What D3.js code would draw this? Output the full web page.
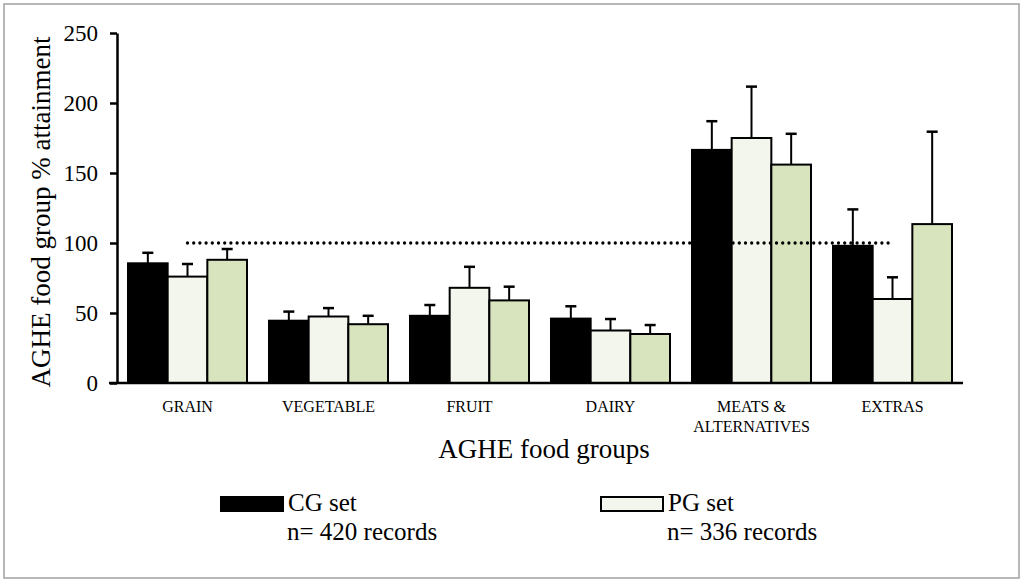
<!DOCTYPE html>
<html><head><meta charset="utf-8">
<script src="https://cdn.jsdelivr.net/npm/d3@7"></script>
<style>body{margin:0;background:#fff}svg{display:block}svg text{font-family:"Liberation Serif","DejaVu Serif",serif !important;fill:#000}</style>
</head><body>
<svg id="c" width="1024" height="586"></svg>
<script>
const categories = ["GRAIN","VEGETABLE","FRUIT","DAIRY","MEATS & ALTERNATIVES","EXTRAS"];
const categoryLines = [["GRAIN"],["VEGETABLE"],["FRUIT"],["DAIRY"],["MEATS &","ALTERNATIVES"],["EXTRAS"]];
const seriesNames = ["CG set","PG set","Third set"];
const cgValues = [85.5, 44.5, 48, 46, 166.5, 98];
const cgErrors = [7.5, 6.5, 7.7, 8.8, 20.5, 26];
const pgValues = [76, 47.5, 68, 37.5, 175, 60];
const pgErrors = [9, 6, 15, 8.2, 36.7, 15.5];
const thirdValues = [88, 42, 59, 35, 156, 113.5];
const thirdErrors = [7.7, 6, 9.8, 6.4, 22, 66];
const yTicks = [0, 50, 100, 150, 200, 250];
const referenceValue = 100;
const legendItems = [
  {name:"CG set", note:"n= 420 records"},
  {name:"PG set", note:"n= 336 records"}
];
const colors = {"CG set":"#000000","PG set":"#f2f6ec","Third set":"#d7e4bd"};
const FONT = '"Liberation Serif","DejaVu Serif",serif';

const svg = d3.select("#c");
svg.append("rect").attr("x",4).attr("y",4).attr("width",1015).attr("height",574)
  .attr("fill","#fff").attr("stroke","#a0a0a0").attr("stroke-width",1.5);

const plotLeft = 117, plotRight = 963, plotTop = 33, plotBottom = 383;
const y = d3.scaleLinear().domain([0,250]).range([plotBottom, plotTop]);
const p = 0.156;
const x0 = d3.scaleBand().domain(categories).range([plotLeft, plotRight]).paddingInner(p).paddingOuter(p/2);
const x1 = d3.scaleBand().domain(seriesNames).range([0, x0.bandwidth()]);

const vals = {"CG set":cgValues,"PG set":pgValues,"Third set":thirdValues};
const errs = {"CG set":cgErrors,"PG set":pgErrors,"Third set":thirdErrors};
const data = [];
categories.forEach((c,i)=>seriesNames.forEach(s=>data.push({c, s, v:vals[s][i], e:errs[s][i]})));

// error bars (behind bars)
const eb = svg.append("g").attr("stroke","#000").attr("stroke-width",2);
data.forEach(d=>{
  const cx = x0(d.c)+x1(d.s)+x1.bandwidth()/2;
  eb.append("line").attr("x1",cx).attr("x2",cx).attr("y1",y(d.v)).attr("y2",y(d.v+d.e));
  eb.append("line").attr("x1",cx-5.5).attr("x2",cx+5.5).attr("y1",y(d.v+d.e)).attr("y2",y(d.v+d.e)).attr("stroke-width",2.5);
});

// bars
svg.append("g").selectAll("rect").data(data).join("rect")
  .attr("x",d=>x0(d.c)+x1(d.s))
  .attr("y",d=>y(d.v))
  .attr("width",x1.bandwidth())
  .attr("height",d=>y(0)-y(d.v))
  .attr("fill",d=>colors[d.s])
  .attr("stroke","#000").attr("stroke-width",2);

// reference dotted line
svg.append("line")
  .attr("x1",x0(categories[0])+x0.bandwidth()/2)
  .attr("x2",x0(categories[categories.length-1])+x0.bandwidth()/2)
  .attr("y1",y(referenceValue)).attr("y2",y(referenceValue))
  .attr("stroke","#000").attr("stroke-width",3.3)
  .attr("stroke-dasharray","0,6.2").attr("stroke-linecap","round");

// y axis
const yAxis = d3.axisLeft(y).tickValues(yTicks).tickSize(7).tickSizeOuter(0).tickPadding(12);
const yg = svg.append("g").attr("transform",`translate(${plotLeft},0)`).call(yAxis);
yg.attr("font-family",FONT);
yg.select(".domain").attr("stroke","#000").attr("stroke-width",2.5);
yg.selectAll(".tick line").attr("stroke","#000").attr("stroke-width",2.5);
yg.selectAll(".tick text").attr("font-size",23).attr("font-family",FONT);

// x axis line
const xAxis = d3.axisBottom(x0).tickSize(0).tickSizeOuter(0).tickFormat("");
const xg = svg.append("g").attr("transform",`translate(0,${plotBottom})`).call(xAxis);
xg.select(".domain").attr("d",`M${plotLeft-8},0H${plotRight}`).attr("stroke","#000").attr("stroke-width",2.5);

// category labels
categories.forEach((c,i)=>{
  const t = svg.append("text").attr("x",x0(c)+x0.bandwidth()/2).attr("y",412)
    .attr("text-anchor","middle").attr("font-size",16).attr("font-family",FONT);
  categoryLines[i].forEach((ln,j)=>t.append("tspan").attr("x",x0(c)+x0.bandwidth()/2).attr("dy",j?20:0).text(ln));
});

// axis titles
svg.append("text").attr("x",(plotLeft+plotRight)/2+4).attr("y",458).attr("text-anchor","middle")
  .attr("font-size",27).attr("font-family",FONT).text("AGHE food groups");
svg.append("text").attr("transform","translate(50,212) rotate(-90)").attr("text-anchor","middle")
  .attr("font-size",27).attr("font-family",FONT).text("AGHE food group % attainment");

// legend
const lx = [220, 600];
legendItems.forEach((d,i)=>{
  svg.append("rect").attr("x",lx[i]+1).attr("y",497).attr("width",62).attr("height",14)
    .attr("fill",colors[d.name]).attr("stroke","#000").attr("stroke-width",2);
  svg.append("text").attr("x",lx[i]+68).attr("y",511).attr("font-size",25).attr("font-family",FONT).text(d.name);
  svg.append("text").attr("x",lx[i]+67).attr("y",540).attr("font-size",25).attr("font-family",FONT).text(d.note);
});
</script>
</body></html>
